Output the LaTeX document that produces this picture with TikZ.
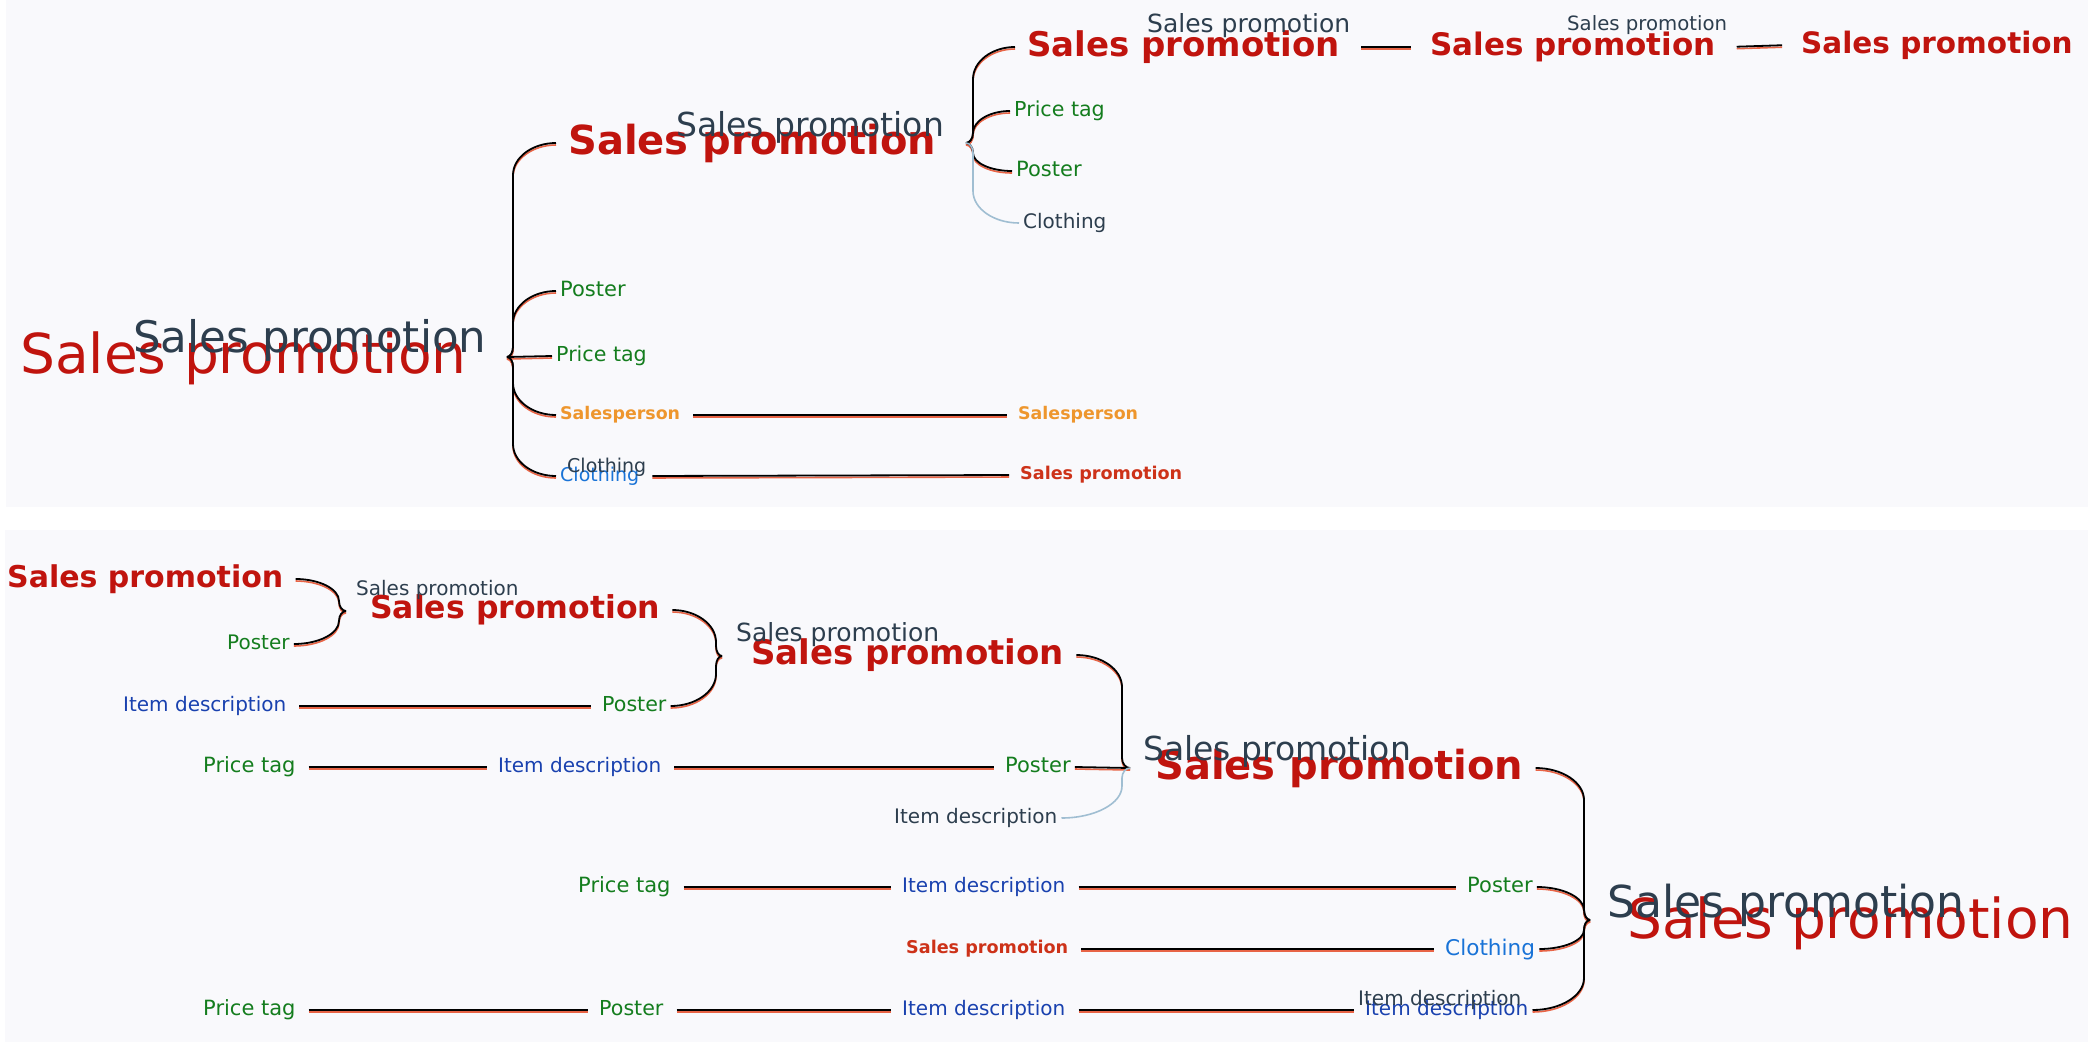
\documentclass[tikz,border=0pt]{standalone}
\usepackage{fontspec}
\setmainfont{DejaVu Sans}
\usetikzlibrary{calc}

\definecolor{spbg}{RGB}{249,249,252}
\definecolor{spred}{RGB}{192,20,14}
\definecolor{spred2}{RGB}{205,50,25}
\definecolor{spgray}{RGB}{45,62,78}
\definecolor{spgreen}{RGB}{20,125,30}
\definecolor{spblue}{RGB}{25,65,175}
\definecolor{spsky}{RGB}{25,115,215}
\definecolor{sporange}{RGB}{238,150,45}
\definecolor{spshade}{RGB}{232,100,70}
\definecolor{sppale}{RGB}{160,190,210}

% brace branch: tip, child anchor, bar offset, +1 up / -1 down
\newcommand{\limb}[5][link]{%
  \draw[#1] let \p1=(#2), \p2=(#3), \n1={min(32,abs(\y2-\y1)-10)} in
    (#2) .. controls ({\x1+0.55*(#4)},\y1) and ({\x1+(#4)},{\y1+4.5*(#5)}) .. ({\x1+(#4)},{\y1+10*(#5)})
    -- ({\x1+(#4)},{\y2-\n1*(#5)})
    .. controls ({\x1+(#4)},{\y2-0.45*\n1*(#5)}) and ({\x2-0.55*(\x2-\x1-(#4))},\y2) .. (#3);}

\begin{document}
\begin{tikzpicture}
  [x=1pt,y=-1pt,
   txt/.style={anchor=west,inner ysep=1pt,text height=.76em,text depth=.2em},
   hub/.style={txt,text=spred,inner xsep=12pt,node font=\fontsize{#1}{#1}\selectfont},
   hubb/.style={txt,text=spred,inner xsep=12pt,node font=\fontsize{#1}{#1}\selectfont\bfseries},
   echo/.style={txt,text=spgray,inner xsep=12pt,node font=\fontsize{#1}{#1}\selectfont},
   leaf/.style={txt,inner xsep=4pt,node font=\fontsize{#1}{#1}\selectfont},
   bleaf/.style={txt,inner xsep=4pt,node font=\fontsize{#1}{#1}\selectfont\bfseries},
   link/.style={draw=black,line width=1.8pt,
     preaction={draw=spshade,line width=1.6pt,transform canvas={yshift=-2pt}}},
   pale/.style={draw=sppale,line width=1.6pt}]
  \useasboundingbox (0,0) rectangle (2092,1042);
  \fill[spbg] (6,0) rectangle (2088,507);
  \fill[spbg] (5,530) rectangle (2088,1042);

  % upper map
  \node[hub=55] (r0) at (8,358) {Sales promotion};
  \node[echo=43.5] (e0) at (121,340) {Sales promotion};
  \coordinate (t0) at (507,357);
  \node[hubb=40] (r1) at (556,143) {Sales promotion};
  \node[echo=33] (e1) at (664,127) {Sales promotion};
  \node[leaf=21,text=spgreen] (pa) at (556,291) {Poster};
  \node[leaf=20.6,text=spgreen] (pb) at (552,356) {Price tag};
  \node[bleaf=17.4,text=sporange] (pc) at (556,415) {Salesperson};
  \node[leaf=19,text=spsky] (pd) at (556,476) {Clothing};
  \node[leaf=19,text=spgray] (pd2) at (563,467) {Clothing};
  \node[bleaf=17.4,text=sporange] (pe) at (1014,415) {Salesperson};
  \node[bleaf=17.6,text=spred2] (pf) at (1016,475) {Sales promotion};
  \coordinate (t1) at (966,143);
  \node[hubb=34] (r2) at (1015,47) {Sales promotion};
  \node[echo=25] (e2) at (1135,25) {Sales promotion};
  \node[leaf=20.6,text=spgreen] (qa) at (1010,111) {Price tag};
  \node[leaf=21,text=spgreen] (qb) at (1012,171) {Poster};
  \node[leaf=20,text=spgray] (qc) at (1019,223) {Clothing};
  \node[hubb=31] (r3) at (1418,47) {Sales promotion};
  \node[echo=19.7] (e3) at (1555,25) {Sales promotion};
  \node[hubb=29.5] (r4) at (1789,45) {Sales promotion};

  \limb{t0}{r1.west}{6}{1}
  \limb{t0}{pa.west}{6}{1}
  \draw[link] (t0) -- (pb.west);
  \limb{t0}{pc.west}{6}{-1}
  \limb{t0}{pd.west}{6}{-1}
  \limb{t1}{r2.west}{7}{1}
  \limb{t1}{qa.west}{7}{1}
  \limb{t1}{qb.west}{7}{-1}
  \limb[pale]{t1}{qc.west}{7}{-1}

  % lower map
  \node[hubb=30] (b1) at (-5,579) {Sales promotion};
  \node[leaf=20,text=spgreen] (ba) at (223,644) {Poster};
  \coordinate (t2) at (346,611);
  \node[hubb=31.5] (b2) at (358,610) {Sales promotion};
  \node[echo=20] (e4) at (344,590) {Sales promotion};
  \node[leaf=20,text=spblue] (bb) at (119,706) {Item description};
  \node[leaf=20.6,text=spgreen] (bc) at (598,706) {Poster};
  \coordinate (t3) at (722,656);
  \node[hubb=34] (b3) at (739,655) {Sales promotion};
  \node[echo=25] (e5) at (724,634) {Sales promotion};
  \node[leaf=21,text=spgreen] (bd) at (199,767) {Price tag};
  \node[leaf=20,text=spblue] (be) at (494,767) {Item description};
  \node[leaf=21,text=spgreen] (bf) at (1001,767) {Poster};
  \node[leaf=20,text=spgray] (bg) at (890,818) {Item description};
  \coordinate (t4) at (1130,768);
  \node[hubb=40] (b4) at (1143,768) {Sales promotion};
  \node[echo=33] (e6) at (1131,751) {Sales promotion};
  \node[leaf=21,text=spgreen] (bh) at (574,887) {Price tag};
  \node[leaf=20,text=spblue] (bi) at (898,887) {Item description};
  \node[leaf=21,text=spgreen] (bj) at (1463,887) {Poster};
  \node[bleaf=17.6,text=spred2] (bk) at (902,949) {Sales promotion};
  \node[leaf=21.6,text=spsky] (bl) at (1441,949) {Clothing};
  \node[leaf=21,text=spgreen] (bm) at (199,1010) {Price tag};
  \node[leaf=20.6,text=spgreen] (bn) at (595,1010) {Poster};
  \node[leaf=20,text=spblue] (bo) at (898,1010) {Item description};
  \node[leaf=20,text=spblue] (bp) at (1361,1010) {Item description};
  \node[leaf=20,text=spgray] (bq) at (1354,1000) {Item description};
  \coordinate (t5) at (1590,920);
  \node[hub=55] (b5) at (1615,923) {Sales promotion};
  \node[echo=44] (e7) at (1595,905) {Sales promotion};

  \limb{t2}{b1.east}{-7}{1}
  \limb{t2}{ba.east}{-7}{-1}
  \limb{t3}{b2.east}{-6}{1}
  \limb{t3}{bc.east}{-6}{-1}
  \limb{t4}{b3.east}{-8}{1}
  \draw[link] (t4) -- (bf.east);
  \limb[pale]{t4}{bg.east}{-8}{-1}
  \limb{t5}{b4.east}{-6}{1}
  \limb{t5}{bj.east}{-6}{1}
  \limb{t5}{bl.east}{-6}{-1}
  \limb{t5}{bp.east}{-6}{-1}

  \foreach \from/\to in {pc/pe,pd/pf,r2/r3,r3/r4,bb/bc,bd/be,be/bf,bh/bi,bi/bj,bk/bl,bm/bn,bn/bo,bo/bp}
    \draw[link,shorten <=9pt,shorten >=7pt] (\from.east) -- (\to.west);
\end{tikzpicture}
\end{document}
